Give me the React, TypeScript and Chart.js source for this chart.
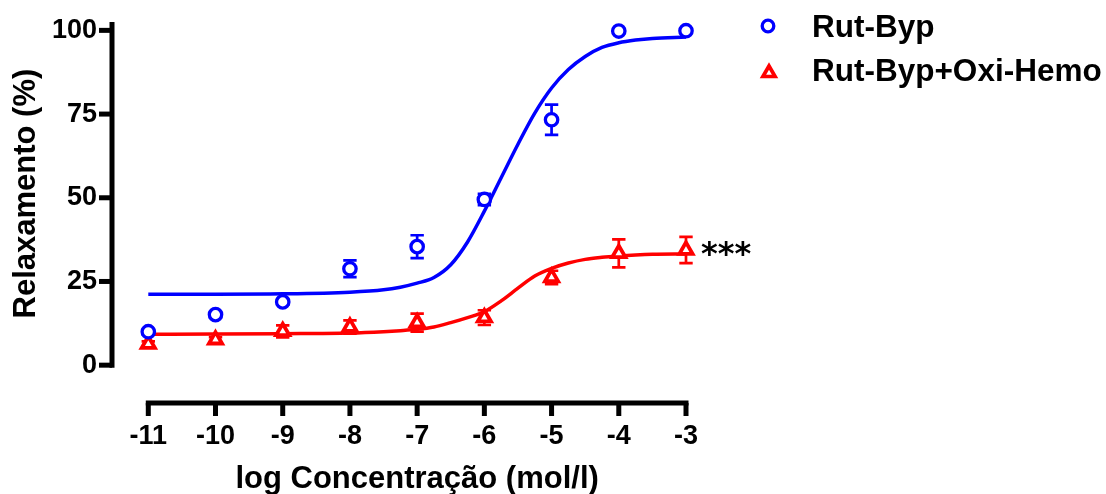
import React, { useEffect, useRef } from 'react';
import { Chart, registerables } from 'chart.js';

Chart.register(...registerables);

// ---------- data ----------
const concentrations = [-11, -10, -9, -8, -7, -6, -5, -4, -3];
const rutBypMean = [10.0, 15.1, 18.9, 28.8, 35.4, 49.5, 73.3, 99.8, 99.9];
const rutBypSem = [0.8, 0.8, 0.8, 2.5, 3.4, 1.7, 4.5, 0.6, 0.6];
const oxiHemoMean = [6.3, 7.6, 10.1, 11.4, 12.7, 14.2, 26.2, 33.4, 34.4];
const oxiHemoSem = [0.8, 0.8, 1.8, 2.0, 2.7, 2.2, 2.0, 4.2, 3.9];

const curveLogC = [-11, -10, -9, -8, -7.5, -7.25, -7, -6.75, -6.5, -6.25, -6, -5.75, -5.5, -5.25, -5, -4.75, -4.5, -4.25, -4, -3.75, -3.5, -3];
const rutBypCurve = [21.2, 21.2, 21.3, 21.8, 22.5, 23.3, 24.5, 26.2, 30.0, 36.8, 46.0, 56.0, 66.0, 75.3, 82.8, 88.3, 92.2, 94.9, 96.3, 97.1, 97.6, 98.0];
const oxiHemoCurve = [9.25, 9.3, 9.4, 9.6, 10.0, 10.3, 10.7, 11.4, 12.7, 14.2, 16.0, 19.2, 23.0, 26.6, 28.9, 30.5, 31.6, 32.2, 32.6, 32.9, 33.1, 33.2];

const xTickValues = [-11, -10, -9, -8, -7, -6, -5, -4, -3];
const yTickValues = [0, 25, 50, 75, 100];
const seriesLabels = ['Rut-Byp', 'Rut-Byp+Oxi-Hemo'];
const xTitle = 'log Concentração (mol/l)';
const yTitle = 'Relaxamento (%)';
const significance = '***';

// ---------- styles ----------
const BLUE = '#0000ff';
const RED = '#ff0000';
const FONT = "'Liberation Sans', Arial, Helvetica, sans-serif";
const X_MIN = -11.54;
const X_MAX = -3;
const Y_MIN = -11.3;
const Y_MAX = 102.5;

function drawTriangle(ctx: CanvasRenderingContext2D, x: number, y: number, r: number) {
  ctx.beginPath();
  let rad = 0;
  ctx.moveTo(x + Math.sin(rad) * r, y - Math.cos(rad) * r);
  rad += (2 * Math.PI) / 3;
  ctx.lineTo(x + Math.sin(rad) * r, y - Math.cos(rad) * r);
  rad += (2 * Math.PI) / 3;
  ctx.lineTo(x + Math.sin(rad) * r, y - Math.cos(rad) * r);
  ctx.closePath();
}

const prismPlugin = {
  id: 'prismDecor',
  beforeDatasetDraw(chart: any, args: any) {
    if (args.index !== 1) return;
    const xs = chart.scales.x;
    const ys = chart.scales.y;
    const ctx: CanvasRenderingContext2D = chart.ctx;
    const bars = (means: number[], sems: number[], color: string) => {
      ctx.save();
      ctx.strokeStyle = color;
      ctx.lineWidth = 2.7;
      concentrations.forEach((c, i) => {
        const px = xs.getPixelForValue(c);
        const top = ys.getPixelForValue(means[i] + sems[i]);
        const bot = ys.getPixelForValue(means[i] - sems[i]);
        ctx.beginPath();
        ctx.moveTo(px, top);
        ctx.lineTo(px, bot);
        ctx.moveTo(px - 6.7, top);
        ctx.lineTo(px + 6.7, top);
        ctx.moveTo(px - 6.7, bot);
        ctx.lineTo(px + 6.7, bot);
        ctx.stroke();
      });
      ctx.restore();
    };
    bars(oxiHemoMean, oxiHemoSem, RED);
    bars(rutBypMean, rutBypSem, BLUE);
  },
  afterDraw(chart: any) {
    const xs = chart.scales.x;
    const ys = chart.scales.y;
    const ctx: CanvasRenderingContext2D = chart.ctx;
    const area = chart.chartArea;
    ctx.save();
    ctx.strokeStyle = '#000';
    ctx.fillStyle = '#000';
    ctx.lineWidth = 5;
    ctx.lineCap = 'butt';

    // Y axis
    const yAxisX = area.left;
    const y0 = ys.getPixelForValue(0);
    ctx.beginPath();
    ctx.moveTo(yAxisX, area.top);
    ctx.lineTo(yAxisX, y0 + 2.5);
    ctx.stroke();
    yTickValues.forEach((v) => {
      const py = ys.getPixelForValue(v);
      ctx.beginPath();
      ctx.moveTo(yAxisX - 13, py);
      ctx.lineTo(yAxisX, py);
      ctx.stroke();
    });

    // X axis
    const xAxisY = area.bottom;
    const xL = xs.getPixelForValue(xTickValues[0]);
    const xR = xs.getPixelForValue(xTickValues[xTickValues.length - 1]);
    ctx.beginPath();
    ctx.moveTo(xL - 2.5, xAxisY);
    ctx.lineTo(xR + 2.5, xAxisY);
    ctx.stroke();
    xTickValues.forEach((v) => {
      const px = xs.getPixelForValue(v);
      ctx.beginPath();
      ctx.moveTo(px, xAxisY);
      ctx.lineTo(px, xAxisY + 13);
      ctx.stroke();
    });

    // axis titles
    ctx.font = `bold 31px ${FONT}`;
    ctx.textAlign = 'center';
    ctx.textBaseline = 'alphabetic';
    ctx.fillText(xTitle, (xL + xR) / 2, 488);

    ctx.save();
    ctx.font = `bold 31px ${FONT}`;
    ctx.translate(35, (area.top + y0) / 2);
    ctx.rotate(-Math.PI / 2);
    ctx.fillText(yTitle, 0, 0);
    ctx.restore();

    // legend
    ctx.lineWidth = 3.3;
    ctx.strokeStyle = BLUE;
    ctx.fillStyle = '#fff';
    ctx.beginPath();
    ctx.arc(768, 26, 5.8, 0, Math.PI * 2);
    ctx.fill();
    ctx.stroke();
    ctx.strokeStyle = RED;
    ctx.lineWidth = 3.7;
    drawTriangle(ctx, 769, 73, 7);
    ctx.fill();
    ctx.stroke();

    ctx.fillStyle = '#000';
    ctx.font = `bold 31.5px ${FONT}`;
    ctx.textAlign = 'left';
    ctx.fillText(seriesLabels[0], 812, 37);
    ctx.fillText(seriesLabels[1], 812, 81);

    // significance marker
    ctx.font = `bold 32px 'DejaVu Sans', ${FONT}`;
    ctx.textBaseline = 'middle';
    ctx.fillText(significance, 701, ys.getPixelForValue(oxiHemoMean[oxiHemoMean.length - 1]) + 6);
    ctx.restore();
  },
};

export default function App() {
  const canvasRef = useRef<HTMLCanvasElement | null>(null);

  useEffect(() => {
    if (!canvasRef.current) return;
    const tickFont = { family: FONT, size: 27, weight: 'bold' as const };
    const chart = new Chart(canvasRef.current, {
      type: 'line',
      data: {
        datasets: [
          {
            label: seriesLabels[0],
            data: concentrations.map((x, i) => ({ x, y: rutBypMean[i] })),
            showLine: false,
            pointStyle: 'circle',
            pointRadius: 6.2,
            pointBorderWidth: 3.3,
            pointBorderColor: BLUE,
            pointBackgroundColor: '#fff',
            borderColor: BLUE,
            clip: false as any,
          },
          {
            label: seriesLabels[1],
            data: concentrations.map((x, i) => ({ x, y: oxiHemoMean[i] })),
            showLine: false,
            pointStyle: 'triangle',
            pointRadius: 7.6,
            pointBorderWidth: 3.8,
            pointBorderColor: RED,
            pointBackgroundColor: '#fff',
            borderColor: RED,
            clip: false as any,
          },
          {
            label: seriesLabels[0] + ' fit',
            data: curveLogC.map((x, i) => ({ x, y: rutBypCurve[i] })),
            borderColor: BLUE,
            borderWidth: 3.5,
            pointRadius: 0,
            cubicInterpolationMode: 'monotone',
            fill: false,
            clip: false as any,
          },
          {
            label: seriesLabels[1] + ' fit',
            data: curveLogC.map((x, i) => ({ x, y: oxiHemoCurve[i] })),
            borderColor: RED,
            borderWidth: 3.5,
            pointRadius: 0,
            cubicInterpolationMode: 'monotone',
            fill: false,
            clip: false as any,
          },
        ],
      },
      options: {
        responsive: false,
        animation: false,
        devicePixelRatio: 1,
        layout: { padding: { top: 22, right: 420, left: 0, bottom: 0 } },
        plugins: { legend: { display: false }, tooltip: { enabled: false } },
        scales: {
          x: {
            type: 'linear',
            min: X_MIN,
            max: X_MAX,
            grid: { display: false, drawTicks: false },
            border: { display: false },
            afterBuildTicks: (s: any) => {
              s.ticks = xTickValues.map((v) => ({ value: v }));
            },
            afterFit: (s: any) => {
              s.height = 91;
              s.paddingLeft = 0;
              s.paddingRight = 0;
            },
            ticks: {
              font: tickFont,
              color: '#000',
              padding: 17,
              autoSkip: false,
              maxRotation: 0,
              minRotation: 0,
              callback: (v: any) => String(v),
            },
          },
          y: {
            type: 'linear',
            min: Y_MIN,
            max: Y_MAX,
            grid: { display: false, drawTicks: false },
            border: { display: false },
            afterBuildTicks: (s: any) => {
              s.ticks = yTickValues.map((v) => ({ value: v }));
            },
            afterFit: (s: any) => {
              s.width = 112;
              s.paddingTop = 0;
              s.paddingBottom = 0;
            },
            ticks: {
              font: tickFont,
              color: '#000',
              padding: 15,
              callback: (v: any) => String(v),
            },
          },
        },
      },
      plugins: [prismPlugin],
    });
    return () => chart.destroy();
  }, []);

  return (
    <div style={{ position: 'absolute', left: 0, top: 0, width: 1106, height: 494, background: '#fff' }}>
      <canvas ref={canvasRef} width={1106} height={494} style={{ display: 'block' }} />
    </div>
  );
}
